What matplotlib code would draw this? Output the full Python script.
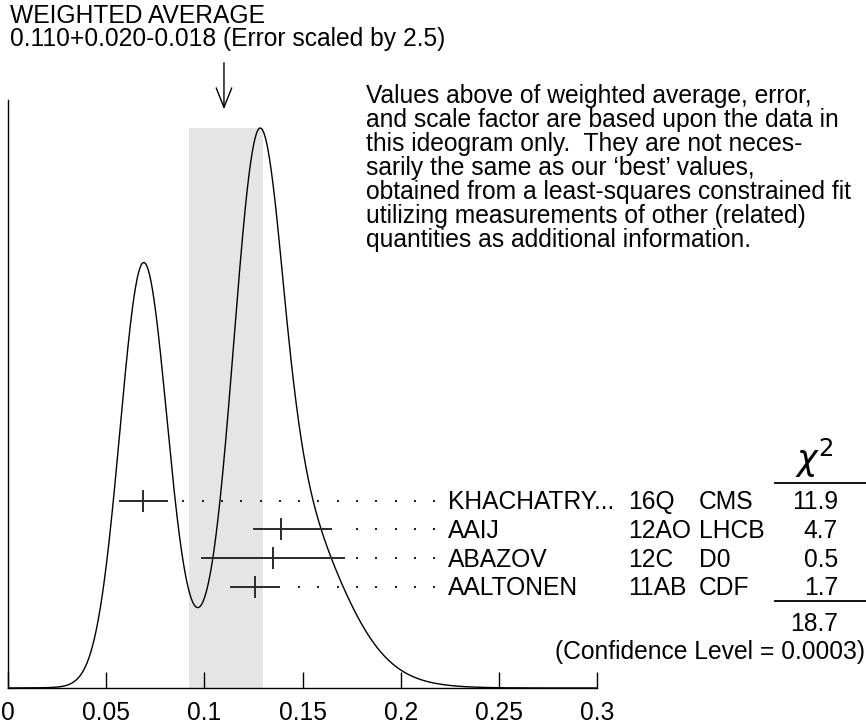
import numpy as np
import matplotlib.pyplot as plt
from matplotlib.patches import FancyArrowPatch

plt.rcParams['font.family'] = ['Liberation Sans', 'DejaVu Sans']

# weighted average and its (scaled) errors
avg = 0.110
avg_hi = 0.020
avg_lo = 0.018
scale_factor = '2.5'

names = ['KHACHATRY...', 'AAIJ', 'ABAZOV', 'AALTONEN']
refs = ['16Q', '12AO', '12C', '11AB']
expts = ['CMS', 'LHCB', 'D0', 'CDF']
values = [0.069, 0.139, 0.135, 0.126]
err_lo = [0.012, 0.0136, 0.036, 0.0123]
err_hi = [0.012, 0.0255, 0.036, 0.012]
chi2 = ['11.9', '4.7', '0.5', '1.7']
chi2_total = '18.7'
conf_level = '0.0003'

xticks = [0, 0.05, 0.1, 0.15, 0.2, 0.25, 0.3]
xticklabels = ['0', '0.05', '0.1', '0.15', '0.2', '0.25', '0.3']

note_lines = ["Values above of weighted average, error,",
              "and scale factor are based upon the data in",
              "this ideogram only.  They are not neces-",
              "sarily the same as our \u2018best\u2019 values,",
              "obtained from a least-squares constrained fit",
              "utilizing measurements of other (related)",
              "quantities as additional information."]

W, H = 866, 728
FS = 17.7

fig = plt.figure(figsize=(W / 100, H / 100), dpi=100)
# axes: x from 0 (px 8) to 0.3 (px 597), y from px 688 up to px 100
ax = fig.add_axes([8 / W, (H - 688) / H, 589 / W, 588 / H])
ax.set_xlim(0, 0.3)
ax.set_ylim(0, 1)


def px_x(p):
    return (p - 8) / 1963.3


def px_y(p):
    return (688 - p) / 588


# ideogram: each measurement is a gaussian with area ~ 1/sigma
x = np.linspace(0, 0.3, 1501)
ideo = np.zeros_like(x)
for v, lo, hi in zip(values, err_lo, err_hi):
    s = np.where(x < v, lo, hi)
    sa = 0.5 * (lo + hi)
    ideo += np.exp(-0.5 * ((x - v) / s) ** 2) / sa ** 2
peak = px_y(128)
ideo = ideo / ideo.max() * peak

ax.axvspan(avg - avg_lo, avg + avg_hi, 0, peak, color='#e5e5e5', lw=0, zorder=0)
ax.plot(x, ideo, color='black', lw=1.0, zorder=3)

# measurement rows
row0 = px_y(500.7)
row_step = 28.67 / 588
cap_half = 8.7 / 588
dot_grid = np.arange(px_x(183.3), px_x(440), 19.3 / 1963.3)
for i in range(len(values)):
    yr = row0 - i * row_step
    v, lo, hi = values[i], err_lo[i], err_hi[i]
    ax.plot([v - lo, v + hi], [yr, yr], color='#2a2a2a', lw=1.4, zorder=4)
    ax.plot([v, v], [yr - 0.017, yr + 0.017], color='#2a2a2a', lw=1.4, zorder=4)
    d = dot_grid[dot_grid > v + hi + 0.004]
    ax.plot(d, np.full_like(d, yr), ls='none', marker='s', ms=1.6,
            color='#222222', mew=0, clip_on=False)
    yt = yr - cap_half
    ax.text(px_x(448), yt, names[i], fontsize=FS, va='baseline', ha='left', clip_on=False)
    ax.text(px_x(628), yt, refs[i], fontsize=FS, va='baseline', ha='left', clip_on=False)
    ax.text(px_x(699), yt, expts[i], fontsize=FS, va='baseline', ha='left', clip_on=False)
    ax.text(px_x(838), yt, chi2[i], fontsize=FS, va='baseline', ha='right', clip_on=False)

# chi2 column header, sums
ax.text(px_x(814), px_y(458), r'$\chi^2$', fontsize=25, ha='center', va='center',
        clip_on=False)
ax.plot([px_x(775), px_x(866)], [px_y(483)] * 2, color='black', lw=1.3, clip_on=False)
ax.plot([px_x(775), px_x(866)], [px_y(601)] * 2, color='black', lw=1.3, clip_on=False)
ax.text(px_x(838), px_y(622) - cap_half, chi2_total, fontsize=FS, va='baseline',
        ha='right', clip_on=False)
ax.text(px_x(865), px_y(650) - cap_half, '(Confidence Level = ' + conf_level + ')',
        fontsize=FS, va='baseline', ha='right', clip_on=False)

# arrow marking the weighted average
arr = FancyArrowPatch((avg, px_y(60)), (avg, px_y(112)),
                      arrowstyle='->,head_length=0.7,head_width=0.28',
                      mutation_scale=20, color='black', lw=1.0, clip_on=False)
ax.add_patch(arr)

fig.text(10 / W, 1 - 23 / H, 'WEIGHTED AVERAGE', fontsize=FS, va='baseline')
fig.text(10 / W, 1 - 46 / H,
         f'{avg:.3f}+{avg_hi:.3f}-{avg_lo:.3f} (Error scaled by {scale_factor})',
         fontsize=FS, va='baseline')
for i, line in enumerate(note_lines):
    fig.text(366 / W, 1 - (103 + 24 * i) / H, line, fontsize=FS, va='baseline',
             ha='left')

# axes styling
for side in ['top', 'right']:
    ax.spines[side].set_visible(False)
ax.spines['left'].set_linewidth(1.0)
ax.spines['bottom'].set_linewidth(1.0)
ax.set_yticks([])
ax.set_xticks(xticks)
ax.set_xticklabels(xticklabels)
ax.tick_params(axis='x', direction='in', length=11.5, width=1.0, pad=9,
               labelsize=FS)

fig.savefig('out.png', dpi=100)
